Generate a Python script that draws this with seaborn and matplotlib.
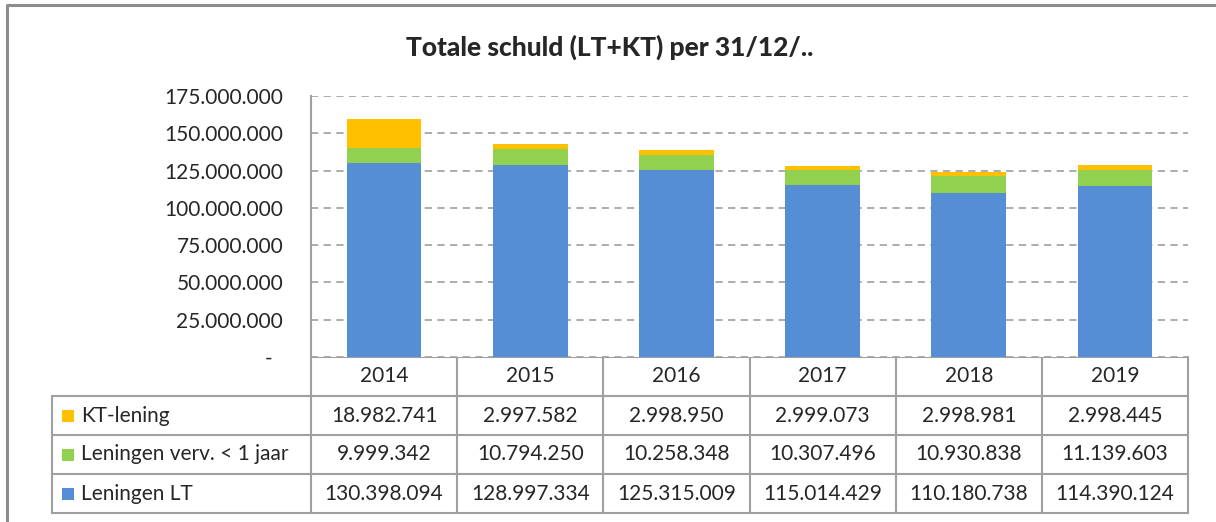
import matplotlib
matplotlib.use("Agg")
import matplotlib.pyplot as plt
import matplotlib.ticker as mticker
import seaborn as sns
import numpy as np
import pandas as pd

years = ["2014", "2015", "2016", "2017", "2018", "2019"]
kt_lening = [18982741, 2997582, 2998950, 2999073, 2998981, 2998445]
verv_1jaar = [9999342, 10794250, 10258348, 10307496, 10930838, 11139603]
leningen_lt = [130398094, 128997334, 125315009, 115014429, 110180738, 114390124]
y_ticks = [0, 25000000, 50000000, 75000000, 100000000, 125000000, 150000000, 175000000]

colors = {"KT-lening": "#FFC000", "Leningen verv. < 1 jaar": "#92D050", "Leningen LT": "#558ED5"}

sns.set_style("white")
plt.rcParams["font.family"] = ["Lato", "DejaVu Sans"]

W, H = 1216, 522
fig = plt.figure(figsize=(W / 100, H / 100), dpi=100)
GRID = "#A6A6A6"
LINE = "#A0A0A0"

# plot area in pixels
x0, x1, y_top, y_bot = 311, 1188, 96, 357
ax = fig.add_axes([x0 / W, 1 - y_bot / H, (x1 - x0) / W, (y_bot - y_top) / H])

df = pd.DataFrame({"year": years, "lt": leningen_lt, "verv": verv_1jaar, "kt": kt_lening})
bottom = np.zeros(len(years))
for col, name in [("lt", "Leningen LT"), ("verv", "Leningen verv. < 1 jaar"), ("kt", "KT-lening")]:
    sns.barplot(data=df, x="year", y=col, order=years, color=colors[name], width=0.51,
                errorbar=None, bottom=bottom, saturation=1, linewidth=0, ax=ax)
    bottom = bottom + df[col].to_numpy()

fs = 15
ax.set_ylim(0, 175000000)
ax.set_xlim(-0.5, len(years) - 0.5)
ax.set_yticks(y_ticks)
ax.yaxis.set_major_formatter(mticker.FuncFormatter(
    lambda v, p: "-  " if v == 0 else f"{int(v):,}".replace(",", ".")))
ax.tick_params(axis="y", length=0, pad=20, labelsize=fs)
ax.set_xticks([])
ax.set_xlabel("")
ax.set_ylabel("")
ax.grid(axis="y", linestyle=(0, (4, 3)), color=GRID, linewidth=1.3)
ax.set_axisbelow(True)
for s in ["top", "right", "bottom"]:
    ax.spines[s].set_visible(False)
ax.spines["left"].set_color(LINE)
ax.spines["left"].set_linewidth(1.5)

# data table below the chart, drawn in pixel coordinates
tab = fig.add_axes([0, 0, 1, 1], zorder=-1)
tab.set_xlim(0, W)
tab.set_ylim(H, 0)
tab.axis("off")

leg_x = 52
rows = [357, 396, 435, 474, 513]
col_w = (x1 - x0) / len(years)
lw = 1.5
tab.plot([x0, x1], [rows[0], rows[0]], color=LINE, lw=lw)
for r in rows[1:]:
    tab.plot([leg_x, x1], [r, r], color=LINE, lw=lw)
tab.plot([leg_x, leg_x], [rows[1], rows[-1]], color=LINE, lw=lw)
tab.plot([x0, x0], [rows[0], rows[-1]], color=LINE, lw=lw)
for i in range(1, len(years) + 1):
    xi = x0 + i * col_w
    tab.plot([xi, xi], [rows[0], rows[-1]], color=LINE, lw=lw)

for i, yr in enumerate(years):
    tab.text(x0 + (i + 0.5) * col_w, (rows[0] + rows[1]) / 2, yr, ha="center", va="center", fontsize=fs)

fmt = lambda v: f"{v:,}".replace(",", ".")
table_rows = [("KT-lening", kt_lening), ("Leningen verv. < 1 jaar", verv_1jaar), ("Leningen LT", leningen_lt)]
for k, (name, vals) in enumerate(table_rows):
    yc = (rows[k + 1] + rows[k + 2]) / 2
    tab.add_patch(plt.Rectangle((62, yc - 6), 12, 12, color=colors[name], lw=0))
    tab.text(81, yc, name, ha="left", va="center", fontsize=fs)
    for i, v in enumerate(vals):
        tab.text(x0 + (i + 0.5) * col_w, yc, fmt(v), ha="center", va="center", fontsize=fs)

# outer chart border
tab.plot([7, 7, W + 5], [H + 5, 5, 5], color="#8C8C8C", lw=2.2)

fig.text(610 / W, 1 - 47 / H, "Totale schuld (LT+KT) per 31/12/..", ha="center", va="center",
         fontsize=19, fontweight="black")

fig.savefig("out.png", dpi=100, facecolor="white")
